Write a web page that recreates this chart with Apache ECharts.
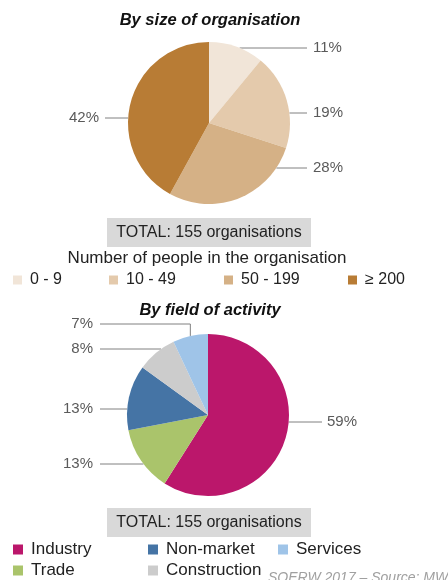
<!DOCTYPE html>
<html>
<head>
<meta charset="utf-8">
<script src="https://cdn.jsdelivr.net/npm/echarts@6/dist/echarts.min.js"></script>
<style>
  html, body { margin: 0; padding: 0; background: #fff; }
  #chart { width: 448px; height: 580px; }
</style>
</head>
<body>
<div id="chart"></div>
<script>
// data (percent of 155 organisations)
const sizeNames = ['0 - 9', '10 - 49', '50 - 199', '≥ 200'];
const sizeValues = [11, 19, 28, 42];
const fieldNames = ['Industry', 'Trade', 'Non-market', 'Construction', 'Services'];
const fieldValues = [59, 13, 13, 8, 7];

const sizeColors = ['#f1e5d8', '#e4caac', '#d5b186', '#b87c35'];
const fieldColors = ['#bb176b', '#aac46b', '#4574a5', '#cccccc', '#9fc4e8'];

const FONT = '"Liberation Sans", Arial, sans-serif';

// pie geometry + where the percent labels sit
const topPie = { cx: 209, cy: 123, r: 81, left: 105, right: 307, gapL: 6, gapR: 6, labelY: [48, 113, 168, 118] };
const botPie = { cx: 208, cy: 415, r: 81, left: 100, right: 322, gapL: 7, gapR: 5, labelY: [422, 464, 409, 349, 324] };

// horizontal leader lines that meet the pie where the label row cuts it
function pieLabelLayout(g) {
  return function (params) {
    var y = g.labelY[params.dataIndex];
    var edge = params.labelLinePoints ? params.labelLinePoints[0] : [g.cx, g.cy];
    var right = edge[0] > g.cx;
    var dy = y - g.cy;
    var pts;
    if (Math.abs(dy) < g.r - 2) {
      var ex = Math.sqrt(g.r * g.r - dy * dy);
      pts = [[g.cx + (right ? ex : -ex), y]];
    } else {
      pts = [edge, [edge[0], y]];
    }
    var end = right ? g.right : g.left;
    return {
      x: right ? end + g.gapR : end - g.gapL,
      y: y,
      align: right ? 'left' : 'right',
      verticalAlign: 'middle',
      labelLinePoints: pts.concat([[end, y]])
    };
  };
}

function pieSeries(g, names, values, colors) {
  return {
    type: 'pie',
    center: [g.cx, g.cy],
    radius: g.r,
    startAngle: 90,
    clockwise: true,
    silent: true,
    itemStyle: { borderWidth: 0 },
    label: {
      show: true,
      formatter: '{c}%',
      fontFamily: FONT,
      fontSize: 15,
      color: '#5a5a5a'
    },
    labelLine: { show: true, length: 8, length2: 8, lineStyle: { color: '#808080', width: 1 } },
    labelLayout: pieLabelLayout(g),
    data: names.map(function (n, i) {
      return { name: n, value: values[i], itemStyle: { color: colors[i] } };
    })
  };
}

// legend slots
const sizeLegendPos = [[13, 272], [109, 272], [224, 272], [348, 272]];
const fieldLegendPos = [[13, 541], [13, 562], [148, 541], [148, 562], [278, 541]];

function legendItem(name, pos, size, fontSize) {
  return {
    data: [name],
    left: pos[0],
    top: pos[1],
    padding: 0,
    icon: 'rect',
    itemWidth: size,
    itemHeight: size,
    selectedMode: false,
    textStyle: { fontFamily: FONT, fontSize: fontSize, color: '#222', padding: [0, 0, 0, 3] }
  };
}

const legends = sizeNames.map(function (n, i) { return legendItem(n, sizeLegendPos[i], 9, 16); })
  .concat(fieldNames.map(function (n, i) { return legendItem(n, fieldLegendPos[i], 10, 17); }));

function label(text, x, y, font, fill, align) {
  return {
    type: 'text', x: x, y: y, silent: true,
    style: { text: text, font: font, fill: fill, align: align || 'center', verticalAlign: 'middle' }
  };
}

var myChart = echarts.init(document.getElementById('chart'));
var option = {
  animation: false,
  backgroundColor: '#fff',
  legend: legends,
  series: [
    pieSeries(topPie, sizeNames, sizeValues, sizeColors),
    pieSeries(botPie, fieldNames, fieldValues, fieldColors)
  ],
  graphic: [
    label('By size of organisation', 210, 20, 'italic bold 16.5px ' + FONT, '#111'),
    { type: 'rect', silent: true, shape: { x: 107, y: 218, width: 204, height: 29 }, style: { fill: '#d9d9d9' } },
    label('TOTAL: 155 organisations', 209, 233, '16px ' + FONT, '#222'),
    label('Number of people in the organisation', 207, 258, '17px ' + FONT, '#222'),
    label('By field of activity', 210, 310, 'italic bold 16.5px ' + FONT, '#111'),
    { type: 'rect', silent: true, shape: { x: 107, y: 508, width: 204, height: 29 }, style: { fill: '#d9d9d9' } },
    label('TOTAL: 155 organisations', 209, 523, '16px ' + FONT, '#222'),
    label('SOERW 2017 – Source: MWO', 268, 578, 'italic 14px ' + FONT, '#a0a0a0', 'left')
  ]
};

option && myChart.setOption(option);
</script>
</body>
</html>
